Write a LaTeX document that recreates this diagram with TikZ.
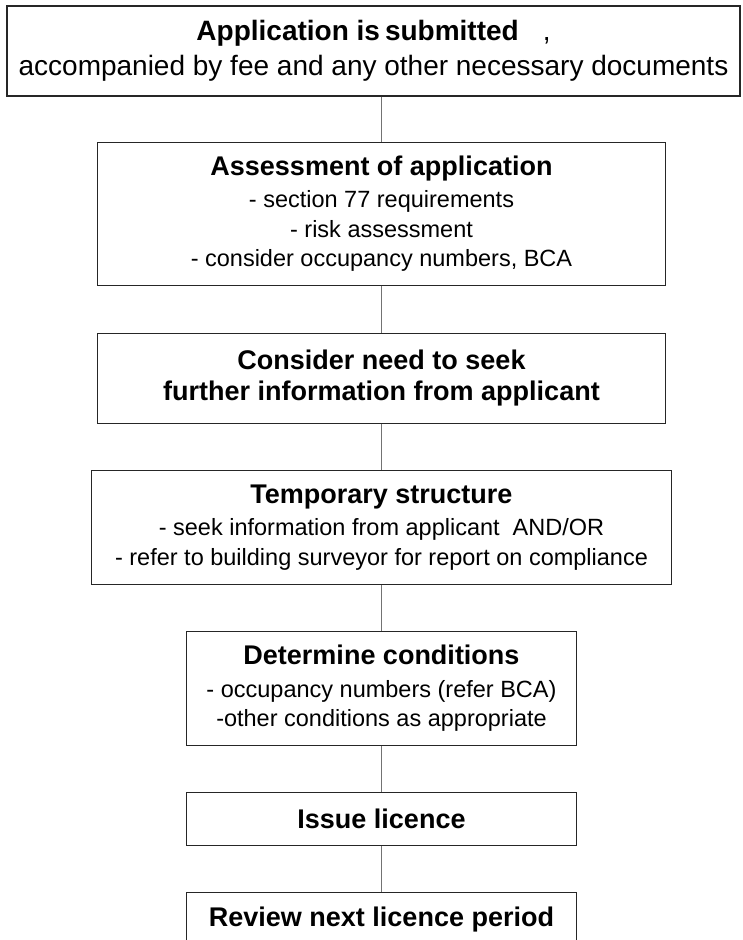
\documentclass[tikz,border=0pt]{standalone}
\usepackage{fontspec}
\setmainfont{Liberation Sans}
\usetikzlibrary{positioning}

\newcommand{\boxtitle}[1]{{\fontsize{27}{32}\selectfont\bfseries #1}}

\begin{document}
\begin{tikzpicture}[
    x=1pt, y=-1pt,
    node distance=46pt,
    box/.style={rectangle,draw=black!85,line width=1.1pt,inner sep=0pt,align=center,font=\fontsize{23.5}{29.5}\selectfont},
    link/.style={draw=black!55,line width=1pt}
]
\clip (0,0) rectangle (742,940);

% Submission
\node[box, minimum width=733pt, minimum height=90pt, font=\fontsize{28}{35}\selectfont] (submit) at (373.5,51)
    {{\bfseries Application is\kern5pt submitted}\hspace{24pt},\\accompanied by fee and any other necessary documents};

% Assessment
\node[box, minimum width=568pt, minimum height=143pt, below=45pt of submit, xshift=8pt] (assess)
    {\boxtitle{Assessment of application}\\[3pt]- section 77 requirements\\- risk assessment\\- consider occupancy numbers, BCA};

% Further information
\node[box, minimum width=568pt, minimum height=90pt, below=47pt of assess] (further)
    {\boxtitle{Consider need to seek}\\[2pt]\boxtitle{further information from applicant}};

% Temporary structure
\node[box, minimum width=580pt, minimum height=114pt, below=of further] (temp)
    {\boxtitle{Temporary structure}\\[3pt]- seek information from applicant\ \ AND/OR\\- refer to building surveyor for report on compliance};

% Conditions
\node[box, minimum width=390pt, minimum height=114pt, below=of temp] (conditions)
    {\boxtitle{Determine conditions}\\[3pt]- occupancy numbers (refer BCA)\\-other conditions as appropriate};

% Licence
\node[box, minimum width=390pt, minimum height=53pt, below=of conditions] (issue)
    {\boxtitle{Issue licence}};
\node[box, minimum width=390pt, minimum height=53pt, below=of issue] (review)
    {\boxtitle{Review next licence period}};

% Lines
\draw[link] (assess.north |- submit.south) -- (assess.north);
\draw[link] (assess) -- (further);
\draw[link] (further) -- (temp);
\draw[link] (temp) -- (conditions);
\draw[link] (conditions) -- (issue);
\draw[link] (issue) -- (review);

\end{tikzpicture}
\end{document}
